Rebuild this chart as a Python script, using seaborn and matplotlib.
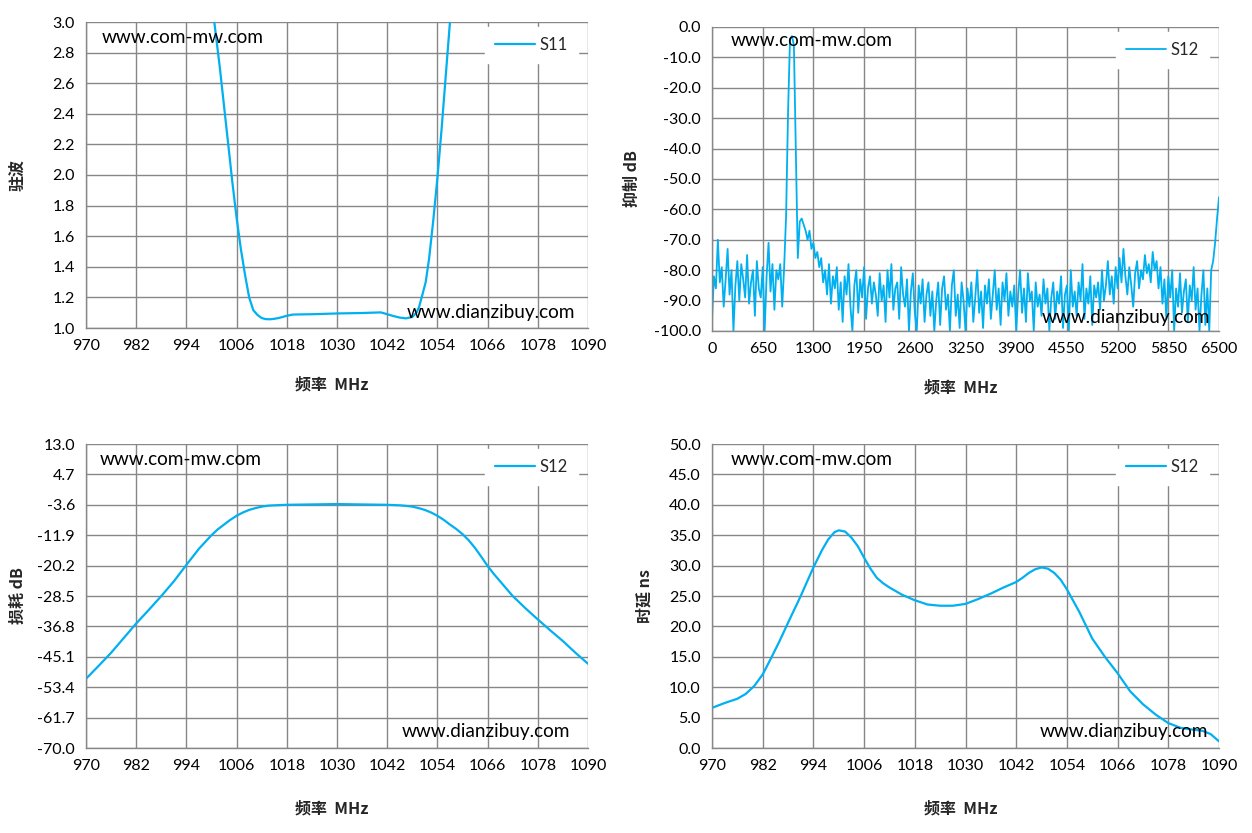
import numpy as np
import pandas as pd
import matplotlib
matplotlib.use("Agg")
import matplotlib.pyplot as plt
import seaborn as sns

sns.set_style("white")
plt.rcParams['font.family'] = ['Lato', 'Noto Sans CJK SC', 'DejaVu Sans']

# ---------------- data ----------------
# Panel 1: VSWR (S11)
vswr_freq = [998, 1000, 1002, 1004, 1005, 1006, 1007, 1008, 1009, 1010, 1011, 1012,
             1013, 1014, 1015, 1016, 1017, 1018, 1019.5, 1024, 1030, 1036, 1040.5,
             1042, 1043.5, 1045, 1046.5, 1048, 1049, 1049.6, 1050.4, 1051.2, 1052,
             1053, 1054, 1055, 1056, 1057, 1058]
vswr_s11 = [3.6, 3.15, 2.7, 2.2, 1.95, 1.72, 1.52, 1.35, 1.2, 1.116, 1.085, 1.065,
            1.058, 1.057, 1.06, 1.065, 1.072, 1.08, 1.088, 1.09, 1.095, 1.098, 1.102,
            1.09, 1.078, 1.068, 1.063, 1.072, 1.10, 1.136, 1.216, 1.30, 1.45,
            1.7, 1.98, 2.3, 2.65, 3.0, 3.35]

# Panel 2: wideband rejection (S12), 0..6500 MHz
rej_s12 = [
    -96, -82, -86, -70, -84, -79, -92, -83, -73, -88,
    -80, -100, -85, -77, -90, -78, -83, -89, -75, -91,
    -84, -80, -95, -77, -86, -89, -79, -100, -82, -71,
    -87, -78, -93, -80, -83, -78, -92, -79, -62, -28,
    -4, -3, -6, -42, -76, -64, -63, -65, -67, -70,
    -67, -73, -71, -76, -74, -79, -76, -84, -80, -88,
    -78, -91, -82, -86, -79, -93, -84, -97, -82, -88,
    -78, -92, -100, -85, -80, -94, -83, -89, -79, -96,
    -86, -82, -91, -84, -88, -95, -81, -90, -85, -97,
    -80, -89, -78, -93, -86, -84, -96, -79, -88, -92,
    -83, -100, -87, -81, -94, -100, -85, -91, -83, -97,
    -88, -84, -95, -87, -100, -90, -84, -98, -86, -82,
    -93, -88, -100, -85, -80, -95, -88, -99, -84, -90,
    -100, -86, -92, -84, -97, -89, -80, -94, -87, -99,
    -85, -91, -83, -96, -88, -80, -93, -86, -98, -84,
    -90, -81, -95, -87, -92, -85, -100, -88, -80, -94,
    -86, -97, -81, -90, -87, -100, -84, -92, -88, -95,
    -83, -91, -86, -100, -89, -84, -96, -87, -91, -82,
    -99, -88, -85, -100, -80, -92, -87, -95, -84, -90,
    -78, -96, -86, -91, -82, -98, -85, -89, -84, -93,
    -80, -90, -85, -77, -88, -82, -91, -79, -86, -76,
    -84, -73, -82, -88, -79, -85, -92, -81, -77, -86,
    -80, -83, -75, -81, -78, -84, -74, -80, -77, -86,
    -79, -91, -83, -96, -82, -89, -80, -100, -86, -92,
    -81, -94, -87, -83, -97, -85, -90, -79, -93, -86,
    -100, -88, -80, -98, -86, -100, -80, -77, -71, -63,
    -56]
rej_freq = np.linspace(0, 6500, len(rej_s12))

# Panel 3: insertion loss (S12)
il_freq = [970, 973, 976, 979, 982, 985, 988, 991, 994, 997, 1000, 1001.5, 1003,
           1004.5, 1006, 1007.5, 1009, 1010.5, 1012, 1013.5, 1015, 1018, 1030, 1042,
           1045, 1046.5, 1048, 1049.5, 1051, 1052.5, 1054, 1055.5, 1057, 1058.5, 1060,
           1061.5, 1063, 1064.5, 1066, 1067.5, 1069, 1072, 1075, 1078, 1081, 1084,
           1087, 1090]
il_s12 = [-51.1, -47.6, -44.0, -40.0, -36.0, -32.3, -28.5, -24.5, -20.0, -15.6, -11.9,
          -10.3, -9.0, -7.7, -6.6, -5.7, -5.0, -4.5, -4.1, -3.85, -3.75, -3.6, -3.4,
          -3.6, -3.75, -3.9, -4.1, -4.5, -5.0, -5.7, -6.6, -7.7, -9.0, -10.2, -11.6,
          -13.3, -15.4, -17.8, -20.3, -22.5, -24.5, -28.5, -31.8, -34.9, -37.9, -40.8,
          -44.0, -47.0]

# Panel 4: group delay (S12)
gd_freq = [970, 973, 976, 978, 980, 982, 984, 986, 988, 991, 994, 996, 997.5, 999,
           1000, 1001.5, 1003, 1004.5, 1006, 1007.5, 1009, 1010.5, 1012, 1015, 1018,
           1021, 1024, 1027, 1030, 1033, 1036, 1039, 1042, 1043.5, 1045, 1046.5, 1048,
           1049.5, 1051, 1052.5, 1054, 1057, 1060, 1063, 1066, 1069, 1072, 1075, 1078,
           1081, 1084, 1086, 1088, 1090]
gd_s12 = [6.6, 7.4, 8.1, 8.9, 10.2, 12.1, 14.8, 17.6, 20.6, 25.0, 29.7, 32.5, 34.3,
          35.5, 35.8, 35.6, 34.6, 33.2, 31.3, 29.5, 28.0, 27.1, 26.4, 25.2, 24.3,
          23.6, 23.4, 23.4, 23.7, 24.5, 25.4, 26.4, 27.3, 28.0, 28.8, 29.4, 29.7,
          29.5, 28.8, 27.7, 26.1, 22.3, 18.0, 15.0, 12.3, 9.3, 7.2, 5.5, 4.1,
          3.3, 3.0, 2.85, 2.3, 1.1]

band_ticks = list(range(970, 1091, 12))
wide_ticks = list(range(0, 6501, 650))
vswr_ticks = [1.0, 1.2, 1.4, 1.6, 1.8, 2.0, 2.2, 2.4, 2.6, 2.8, 3.0]
rej_ticks = [0, -10, -20, -30, -40, -50, -60, -70, -80, -90, -100]
il_ticks = [13.0, 4.7, -3.6, -11.9, -20.2, -28.5, -36.8, -45.1, -53.4, -61.7, -70.0]
gd_ticks = [0, 5, 10, 15, 20, 25, 30, 35, 40, 45, 50]

xlabel_text = "频率  MHz"

# ---------------- figure ----------------
W, H = 1252, 833
fig = plt.figure(figsize=(W / 100, H / 100), dpi=100)
fig.patch.set_facecolor("white")

def ax_at(l, r, t, b):
    return fig.add_axes([l / W, 1 - b / H, (r - l) / W, (b - t) / H])

LINE = "#00B0F0"
GRID = "#878787"
CJK = ['Noto Sans CJK SC', 'DejaVu Sans']

def style(ax, xticks, yticks, xlim, ylim, ylabel, legend_label, ylab_x, xlab_y):
    ax.set_xlim(*xlim)
    ax.set_ylim(*ylim)
    ax.set_xticks(xticks)
    ax.set_yticks(yticks)
    ax.set_yticklabels([f"{v:.1f}" for v in yticks])
    ax.grid(True, color=GRID, linewidth=1.0)
    ax.set_axisbelow(True)
    for s in ["top", "right"]:
        ax.spines[s].set_visible(False)
    for s in ["left", "bottom"]:
        ax.spines[s].set_color(GRID)
        ax.spines[s].set_linewidth(1.0)
    ax.tick_params(axis="both", which="both", direction="out", length=5, width=1,
                   color=GRID, labelsize=11.5, labelcolor="black", pad=3)
    ax.set_xlabel(xlabel_text, fontsize=11.5, fontweight="bold", family=CJK)
    ax.set_ylabel(ylabel, fontsize=11.5, fontweight="bold", family=CJK)
    ax.yaxis.set_label_coords(ylab_x, 0.5)
    ax.xaxis.set_label_coords(0.49, xlab_y)
    leg = ax.legend([legend_label], loc="upper right", bbox_to_anchor=(0.98, 0.985),
                    borderaxespad=0, frameon=True, fancybox=False, framealpha=1,
                    facecolor="white", edgecolor="white", fontsize=12, handlelength=2.4,
                    handletextpad=0.3, borderpad=0.6)
    leg.set_zorder(5)

def marks(ax, top_xy, bot_xy):
    ax.text(top_xy[0], top_xy[1], "www.com-mw.com", transform=ax.transAxes,
            ha="left", va="center", fontsize=13.7, color="black", zorder=6)
    ax.text(bot_xy[0], bot_xy[1], "www.dianzibuy.com", transform=ax.transAxes,
            ha="right", va="center", fontsize=13.7, color="black", zorder=6)

# Panel 1
ax1 = ax_at(86, 588, 22, 328)
sns.lineplot(x=vswr_freq, y=vswr_s11, ax=ax1, color=LINE, linewidth=1.6, label="S11")
style(ax1, band_ticks, vswr_ticks, (970, 1090), (1.0, 3.0), "驻波", "S11", -0.12, -0.157)
marks(ax1, (0.032, 0.948), (0.975, 0.05))

# Panel 2
ax2 = ax_at(712, 1219, 27, 331)
sns.lineplot(x=rej_freq, y=rej_s12, ax=ax2, color=LINE, linewidth=1.3, label="S12")
style(ax2, wide_ticks, rej_ticks, (0, 6500), (-100, 0), "抑制 dB", "S12", -0.142, -0.161)
marks(ax2, (0.036, 0.954), (0.982, 0.045))

# Panel 3
ax3 = ax_at(86, 588, 444, 748)
sns.lineplot(x=il_freq, y=il_s12, ax=ax3, color=LINE, linewidth=1.6, label="S12")
style(ax3, band_ticks, il_ticks, (970, 1090), (-70, 13), "损耗 dB", "S12", -0.12, -0.174)
marks(ax3, (0.028, 0.95), (0.965, 0.053))

# Panel 4
ax4 = ax_at(712, 1219, 444, 748)
sns.lineplot(x=gd_freq, y=gd_s12, ax=ax4, color=LINE, linewidth=1.6, label="S12")
style(ax4, band_ticks, gd_ticks, (970, 1090), (0, 50), "时延 ns", "S12", -0.118, -0.174)
marks(ax4, (0.036, 0.95), (0.978, 0.053))

fig.savefig("out.png", dpi=100, facecolor="white")
